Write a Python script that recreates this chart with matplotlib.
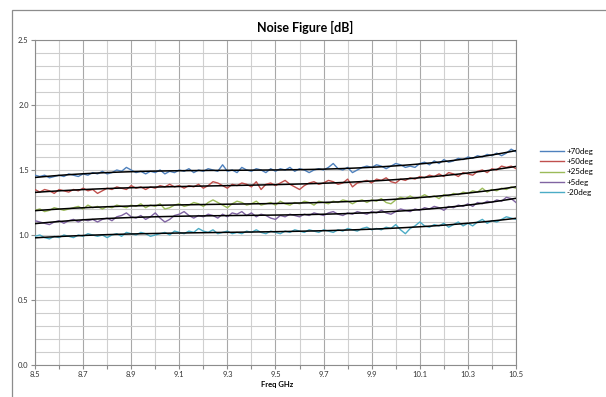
import numpy as np
import matplotlib
matplotlib.use("Agg")
import matplotlib.pyplot as plt
from matplotlib.patches import Rectangle

plt.rcParams['font.family'] = ['Lato', 'DejaVu Sans']

# Frequency axis (GHz), one reading every 0.02 GHz
freq = np.linspace(8.5, 10.5, 101)

nf_70 = [1.46, 1.45, 1.46, 1.44, 1.45, 1.46, 1.45, 1.47, 1.46, 1.45,
         1.47, 1.46, 1.48, 1.47, 1.49, 1.47, 1.48, 1.50, 1.49, 1.52,
         1.50, 1.48, 1.49, 1.47, 1.49, 1.48, 1.50, 1.47, 1.49, 1.48,
         1.50, 1.49, 1.51, 1.48, 1.50, 1.49, 1.51, 1.50, 1.49, 1.54,
         1.49, 1.50, 1.48, 1.52, 1.50, 1.49, 1.51, 1.50, 1.48, 1.51,
         1.49, 1.51, 1.50, 1.52, 1.49, 1.51, 1.50, 1.48, 1.50, 1.51,
         1.50, 1.52, 1.55, 1.51, 1.50, 1.52, 1.48, 1.50, 1.52, 1.53,
         1.52, 1.54, 1.53, 1.51, 1.53, 1.55, 1.54, 1.52, 1.53, 1.52,
         1.55, 1.56, 1.54, 1.57, 1.55, 1.58, 1.56, 1.57, 1.59, 1.58,
         1.60, 1.59, 1.61, 1.60, 1.62, 1.61, 1.63, 1.61, 1.63, 1.66,
         1.64]
nf_50 = [1.35, 1.33, 1.35, 1.34, 1.32, 1.35, 1.34, 1.33, 1.35, 1.34,
         1.36, 1.34, 1.35, 1.32, 1.34, 1.36, 1.35, 1.37, 1.36, 1.35,
         1.38, 1.36, 1.37, 1.35, 1.37, 1.36, 1.38, 1.37, 1.39, 1.37,
         1.38, 1.36, 1.38, 1.37, 1.39, 1.36, 1.38, 1.41, 1.40, 1.38,
         1.36, 1.39, 1.38, 1.40, 1.39, 1.37, 1.41, 1.35, 1.39, 1.40,
         1.38, 1.40, 1.42, 1.39, 1.37, 1.35, 1.38, 1.40, 1.41, 1.39,
         1.40, 1.42, 1.41, 1.39, 1.40, 1.43, 1.37, 1.40, 1.41, 1.42,
         1.40, 1.43, 1.42, 1.44, 1.41, 1.40, 1.43, 1.42, 1.44, 1.43,
         1.45, 1.44, 1.46, 1.45, 1.47, 1.45, 1.48, 1.47, 1.45, 1.48,
         1.47, 1.46, 1.49, 1.50, 1.48, 1.51, 1.50, 1.53, 1.52, 1.53,
         1.51]
nf_25 = [1.19, 1.20, 1.18, 1.19, 1.21, 1.20, 1.19, 1.20, 1.21, 1.22,
         1.20, 1.23, 1.21, 1.22, 1.20, 1.22, 1.21, 1.23, 1.22, 1.21,
         1.23, 1.22, 1.24, 1.21, 1.23, 1.22, 1.24, 1.20, 1.21, 1.23,
         1.24, 1.22, 1.23, 1.25, 1.24, 1.22, 1.25, 1.27, 1.25, 1.23,
         1.21, 1.24, 1.26, 1.25, 1.23, 1.24, 1.26, 1.23, 1.24, 1.25,
         1.23, 1.26, 1.24, 1.23, 1.25, 1.24, 1.26, 1.25, 1.23, 1.26,
         1.25, 1.24, 1.26, 1.25, 1.27, 1.26, 1.24, 1.26, 1.27, 1.25,
         1.27, 1.26, 1.28, 1.25, 1.24, 1.27, 1.29, 1.28, 1.30, 1.28,
         1.29, 1.31, 1.29, 1.30, 1.28, 1.31, 1.30, 1.32, 1.31, 1.33,
         1.32, 1.34, 1.33, 1.36, 1.33, 1.35, 1.34, 1.36, 1.35, 1.37,
         1.36]
nf_5 = [1.11, 1.10, 1.09, 1.08, 1.10, 1.11, 1.09, 1.11, 1.12, 1.10,
        1.12, 1.11, 1.12, 1.10, 1.12, 1.13, 1.11, 1.14, 1.15, 1.17,
        1.14, 1.13, 1.15, 1.12, 1.14, 1.17, 1.13, 1.10, 1.12, 1.15,
        1.16, 1.18, 1.15, 1.13, 1.15, 1.14, 1.16, 1.15, 1.13, 1.16,
        1.14, 1.17, 1.16, 1.18, 1.15, 1.17, 1.14, 1.16, 1.15, 1.13,
        1.12, 1.15, 1.14, 1.16, 1.15, 1.14, 1.16, 1.15, 1.17, 1.16,
        1.15, 1.17, 1.18, 1.16, 1.15, 1.17, 1.16, 1.18, 1.17, 1.16,
        1.18, 1.17, 1.19, 1.17, 1.16, 1.18, 1.20, 1.19, 1.18, 1.20,
        1.19, 1.21, 1.20, 1.22, 1.21, 1.19, 1.22, 1.21, 1.23, 1.22,
        1.24, 1.22, 1.25, 1.24, 1.26, 1.25, 1.27, 1.26, 1.29, 1.28,
        1.25]
nf_m20 = [0.99, 1.00, 0.98, 0.97, 0.99, 0.98, 1.00, 0.99, 0.98, 1.00,
          0.99, 1.01, 1.00, 0.99, 1.00, 0.98, 1.00, 1.01, 0.99, 1.02,
          1.01, 1.00, 1.02, 1.01, 0.99, 1.00, 1.01, 1.02, 1.00, 1.03,
          1.02, 1.01, 1.03, 1.02, 1.05, 1.03, 1.02, 1.04, 1.01, 1.02,
          1.03, 1.01, 1.02, 1.01, 1.03, 1.02, 1.04, 1.02, 1.01, 1.03,
          1.02, 1.01, 1.03, 1.02, 1.04, 1.03, 1.02, 1.04, 1.03, 1.02,
          1.04, 1.03, 1.02, 1.04, 1.03, 1.05, 1.04, 1.03, 1.05, 1.06,
          1.04, 1.05, 1.04, 1.06, 1.05, 1.08, 1.04, 1.01, 1.05, 1.07,
          1.10, 1.07, 1.06, 1.08, 1.07, 1.09, 1.06, 1.08, 1.10, 1.07,
          1.09, 1.07, 1.10, 1.12, 1.09, 1.11, 1.10, 1.12, 1.14, 1.13,
          1.12]

labels = ["+70deg", "+50deg", "+25deg", "+5deg", "-20deg"]
colors = ["#4F81BD", "#C0504D", "#9BBB59", "#8064A2", "#4BACC6"]
series = [nf_70, nf_50, nf_25, nf_5, nf_m20]

fig = plt.figure(figsize=(6.06, 3.97), dpi=100)
ax = fig.add_axes([35 / 606, 1 - 365 / 397, (516 - 35) / 606, (365 - 40) / 397])

# outer chart border (Excel chart area)
fig.add_artist(Rectangle((12 / 606, -0.1), 1.2, 1 - 10 / 397 + 0.1,
                         transform=fig.transFigure, fill=False,
                         edgecolor="#8c8c8c", linewidth=0.9))

for y, c, lab in zip(series, colors, labels):
    ax.plot(freq, y, color=c, linewidth=1.0, label=lab, zorder=3)

# polynomial trendlines
for y in series:
    p = np.polyfit(freq, y, 3)
    ax.plot(freq, np.polyval(p, freq), color="black", linewidth=1.1, zorder=4)

ax.set_xlim(8.5, 10.5)
ax.set_ylim(0, 2.5)
ax.set_xticks(np.arange(8.5, 10.51, 0.2))
ax.set_xticks(np.arange(8.6, 10.5, 0.2), minor=True)
ax.set_yticks(np.arange(0, 2.51, 0.5))
ax.set_yticks(np.arange(0, 2.51, 0.1), minor=True)
ax.set_xticklabels([f"{v:.1f}" for v in np.arange(8.5, 10.51, 0.2)])
ax.set_yticklabels([f"{v:.1f}" for v in np.arange(0, 2.51, 0.5)])

ax.grid(which="major", axis="x", color="#a8a8a8", linewidth=0.8)
ax.grid(which="minor", axis="x", color="#d0d0d0", linewidth=0.8)
ax.grid(which="both", axis="y", color="#cdcdcd", linewidth=0.8)
ax.set_axisbelow(True)

for s in ax.spines.values():
    s.set_color("#8c8c8c")
    s.set_linewidth(0.8)
ax.tick_params(axis="both", which="major", labelsize=5.5, colors="#8c8c8c",
               labelcolor="#333333", length=3, width=0.8, pad=1.5)
ax.tick_params(axis="x", which="minor", length=3, width=0.8, colors="#8c8c8c")
ax.tick_params(axis="y", which="minor", length=0)

fig.text(305 / 606, 1 - 27 / 397, "Noise Figure [dB]", ha="center", va="center",
         fontsize=9, fontweight="bold")
fig.text(277 / 606, 1 - 385 / 397, "Freq GHz", ha="center", va="center",
         fontsize=5.5, fontweight="bold")

fig.legend(loc="upper left", bbox_to_anchor=(536 / 606, 1 - 144 / 397),
           frameon=False, fontsize=5.8, handlelength=3.0, handletextpad=0.3,
           labelspacing=0.4, borderpad=0)

fig.savefig("out.png", dpi=100)
